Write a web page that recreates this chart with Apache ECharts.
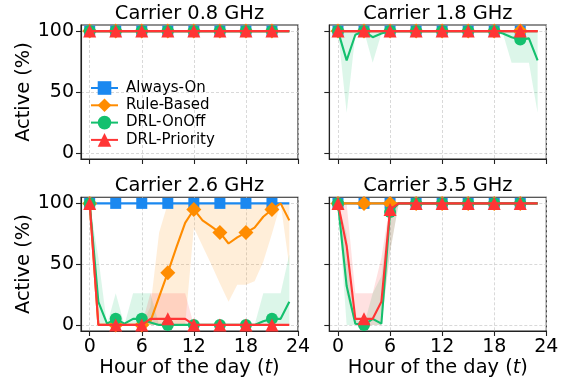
<!DOCTYPE html>
<html><head><meta charset="utf-8">
<script src="https://cdn.jsdelivr.net/npm/echarts@6/dist/echarts.min.js"></script>
<style>html,body{margin:0;padding:0;background:#fff}#c{width:565px;height:383px}</style>
</head><body><div id="c"></div><script>
// ---------- data ----------
const hours = [0,1,2,3,4,5,6,7,8,9,10,11,12,13,14,15,16,17,18,19,20,21,22,23];
const xTicks = [0,6,12,18,24];
const yTicks = [0,50,100];
const seriesNames = ['Always-On','Rule-Based','DRL-OnOff','DRL-Priority'];
const panelTitles = ['Carrier 0.8 GHz','Carrier 1.8 GHz','Carrier 2.6 GHz','Carrier 3.5 GHz'];

// Carrier 0.8 GHz
const c08_alwaysOn    = [100,100,100,100,100,100,100,100,100,100,100,100,100,100,100,100,100,100,100,100,100,100,100,100];
const c08_ruleBased   = [100,100,100,100,100,100,100,100,100,100,100,100,100,100,100,100,100,100,100,100,100,100,100,100];
const c08_drlOnOff    = [100,100,100,100,100,100,100,100,100,100,100,100,100,100,100,100,100,100,100,100,100,100,100,100];
const c08_drlPriority = [100,100,100,100,100,100,100,100,100,100,100,100,100,100,100,100,100,100,100,100,100,100,100,100];

// Carrier 1.8 GHz
const c18_alwaysOn    = [100,100,100,100,100,100,100,100,100,100,100,100,100,100,100,100,100,100,100,100,100,100,100,100];
const c18_ruleBased   = [100,100,100,100,100,100,100,100,100,100,100,100,100,100,100,100,100,100,100,100,100,100,100,100];
const c18_drlOnOff    = [100,76,97,100,95,98,100,100,100,100,100,100,100,100,100,100,100,100,100,98,95,93,94,76];
const c18_drlOnOff_lo = [100,33,97,100,74,98,100,100,100,100,100,100,100,100,100,100,100,100,100,98,74,74,74,33];
const c18_drlOnOff_hi = [100,100,100,100,100,100,100,100,100,100,100,100,100,100,100,100,100,100,100,100,100,100,100,100];
const c18_drlPriority = [100,100,100,100,100,100,100,100,100,100,100,100,100,100,100,100,100,100,100,100,100,100,100,100];

// Carrier 2.6 GHz
const c26_alwaysOn       = [100,100,100,100,100,100,100,100,100,100,100,100,100,100,100,100,100,100,100,100,100,100,100,100];
const c26_ruleBased      = [100,0,0,0,0,0,0,3,23,43,64,84,95,86,81,76,67,72,76,80,89,95,100,86];
const c26_ruleBased_lo   = [100,0,0,0,0,0,0,0,0,0,0,0,80,65,50,34,19,33,33,36,52,75,100,48];
const c26_ruleBased_hi   = [100,0,0,0,0,0,0,15,76,100,100,100,100,100,100,100,100,100,100,100,100,100,100,100];
const c26_drlOnOff       = [100,19,1,5,1,5,5,2,0,0,0,0,0,0,0,0,0,0,0,0,3,5,5,19];
const c26_drlOnOff_lo    = [100,0,0,0,0,0,0,0,0,0,0,0,0,0,0,0,0,0,0,0,0,0,0,0];
const c26_drlOnOff_hi    = [100,55,0,26,0,26,26,26,0,0,0,0,0,0,0,0,0,0,0,0,26,26,26,58];
const c26_drlPriority    = [100,0,0,0,0,0,0,5,5,5,5,5,0,0,0,0,0,0,0,0,0,0,0,0];
const c26_drlPriority_lo = [100,0,0,0,0,0,0,0,0,0,0,0,0,0,0,0,0,0,0,0,0,0,0,0];
const c26_drlPriority_hi = [100,0,0,0,0,0,0,26,26,26,26,26,0,0,0,0,0,0,0,0,0,0,0,0];

// Carrier 3.5 GHz
const c35_alwaysOn       = [100,100,100,100,100,100,100,100,100,100,100,100,100,100,100,100,100,100,100,100,100,100,100,100];
const c35_ruleBased      = [100,100,100,100,100,100,100,100,100,100,100,100,100,100,100,100,100,100,100,100,100,100,100,100];
const c35_drlOnOff       = [100,32,1,0,5,1,93,100,100,100,100,100,100,100,100,100,100,100,100,100,100,100,100,100];
const c35_drlOnOff_lo    = [100,0,0,0,0,0,60,100,100,100,100,100,100,100,100,100,100,100,100,100,100,100,100,100];
const c35_drlOnOff_hi    = [100,75,5,0,26,40,100,100,100,100,100,100,100,100,100,100,100,100,100,100,100,100,100,100];
const c35_drlPriority    = [100,65,5,5,5,19,95,100,100,100,100,100,100,100,100,100,100,100,100,100,100,100,100,100];
const c35_drlPriority_lo = [100,25,0,0,0,0,60,100,100,100,100,100,100,100,100,100,100,100,100,100,100,100,100,100];
const c35_drlPriority_hi = [100,100,26,26,26,55,100,100,100,100,100,100,100,100,100,100,100,100,100,100,100,100,100,100];

// ---------- styles ----------
const FONT = 'DejaVu Sans';
const COLORS = ['#1a88f0','#ff8c00','#14c06e','#ff3535'];
const SYMBOLS = ['rect','diamond','circle','triangle'];
const SIZES = [11,15,12,13];
const BAND_RGBA = {
  1: 'rgba(255,140,0,0.15)',
  2: 'rgba(20,192,110,0.15)',
  3: 'rgba(255,53,53,0.15)'
};

const panels = [
  {lines:[c08_alwaysOn,c08_ruleBased,c08_drlOnOff,c08_drlPriority], bands:[]},
  {lines:[c18_alwaysOn,c18_ruleBased,c18_drlOnOff,c18_drlPriority], bands:[[2,c18_drlOnOff_lo,c18_drlOnOff_hi]]},
  {lines:[c26_alwaysOn,c26_ruleBased,c26_drlOnOff,c26_drlPriority], bands:[[1,c26_ruleBased_lo,c26_ruleBased_hi],[2,c26_drlOnOff_lo,c26_drlOnOff_hi],[3,c26_drlPriority_lo,c26_drlPriority_hi]]},
  {lines:[c35_alwaysOn,c35_ruleBased,c35_drlOnOff,c35_drlPriority], bands:[[2,c35_drlOnOff_lo,c35_drlOnOff_hi],[3,c35_drlPriority_lo,c35_drlPriority_hi]]}
];

const gridBoxes = [
  {left:81, top:25, width:217, height:134},
  {left:329.3, top:25, width:217, height:134},
  {left:81, top:197.3, width:217, height:133.7},
  {left:329.3, top:197.3, width:217, height:133.7}
];

const AX = '#222';
const grid = gridBoxes.map(b => ({left:b.left, top:b.top, width:b.width, height:b.height,
  show:true, borderColor:AX, borderWidth:1.1, backgroundColor:'transparent'}));

const xAxis = gridBoxes.map((b,i) => ({
  type:'value', gridIndex:i, min:-1, max:24,
  axisLine:{show:true, onZero:false, lineStyle:{color:AX, width:1.1}},
  axisTick:{show:true, customValues:xTicks, length:5, lineStyle:{color:AX, width:1.1}},
  axisLabel:{show:i>=2, customValues:xTicks, margin:7, color:'#000', fontSize:19, fontFamily:FONT},
  splitLine:{show:true, lineStyle:{color:'#cfcfcf', width:0.8, type:[3,2]}},
  name: i>=2 ? '{n|Hour of the day (}{i|t}{n|)}' : '',
  nameLocation:'middle', nameGap:27,
  nameTextStyle:{rich:{
    n:{fontSize:19.4, fontFamily:FONT, color:'#000'},
    i:{fontSize:19.4, fontFamily:FONT, fontStyle:'italic', color:'#000'}
  }}
}));

const yAxis = gridBoxes.map((b,i) => ({
  type:'value', gridIndex:i, min:-5, max:105,
  axisLine:{show:true, onZero:false, lineStyle:{color:AX, width:1.1}},
  axisTick:{show:true, customValues:yTicks, length:5, lineStyle:{color:AX, width:1.1}},
  axisLabel:{show:i%2===0, customValues:yTicks, margin:7, color:'#000', fontSize:19, fontFamily:FONT},
  splitLine:{show:true, lineStyle:{color:'#cfcfcf', width:0.8, type:[3,2]}},
  name: i%2===0 ? 'Active (%)' : '',
  nameLocation:'middle', nameGap:47,
  nameTextStyle:{fontSize:19.4, fontFamily:FONT, color:'#000'}
}));

function bandSeries(gi, k, lo, hi) {
  return {
    type:'custom', xAxisIndex:gi, yAxisIndex:gi, silent:true, z:1, animation:false,
    data: hours.map((h,i) => [h, lo[i], hi[i]]),
    encode:{x:0, y:[1,2]},
    renderItem(params, api) {
      if (params.dataIndex !== 0) return null;
      const pts = [];
      for (let i = 0; i < hours.length; i++) pts.push(api.coord([hours[i], hi[i]]));
      for (let i = hours.length - 1; i >= 0; i--) pts.push(api.coord([hours[i], lo[i]]));
      return {type:'polygon', shape:{points:pts}, style:{fill:BAND_RGBA[k], stroke:null}};
    }
  };
}

function lineSeries(gi, k, vals) {
  return {
    type:'line', name:seriesNames[k], xAxisIndex:gi, yAxisIndex:gi, z:3 + k,
    symbol:SYMBOLS[k], symbolSize:SIZES[k], showSymbol:true, animation:false,
    data: hours.map((h,i) => i % 3 === 0 ? {value:[h, vals[i]]} : {value:[h, vals[i]], symbol:'none'}),
    lineStyle:{color:COLORS[k], width:2.1},
    itemStyle:{color:COLORS[k]},
    emphasis:{disabled:true}
  };
}

const series = [];
panels.forEach((p, gi) => {
  p.bands.forEach(b => series.push(bandSeries(gi, b[0], b[1], b[2])));
});
panels.forEach((p, gi) => {
  p.lines.forEach((vals, k) => series.push(lineSeries(gi, k, vals)));
});

const graphic = gridBoxes.map((b,i) => ({
  type:'text', x:b.left + b.width/2, y:b.top - 11.5,
  style:{text:panelTitles[i], align:'center', verticalAlign:'middle', fontSize:19.4, fontFamily:FONT, fill:'#000'}
}));

const chart = echarts.init(document.getElementById('c'), null, {renderer:'canvas'});
chart.setOption({
  animation:false,
  backgroundColor:'#fff',
  grid, xAxis, yAxis, series, graphic,
  legend:{
    data:seriesNames, orient:'vertical', left:90, top:80.5, padding:0,
    itemWidth:27, itemHeight:17, itemGap:2.3,
    textStyle:{fontSize:15, fontFamily:FONT, color:'#000', padding:[0,0,0,3]},
    selectedMode:false
  }
});
</script></body></html>
